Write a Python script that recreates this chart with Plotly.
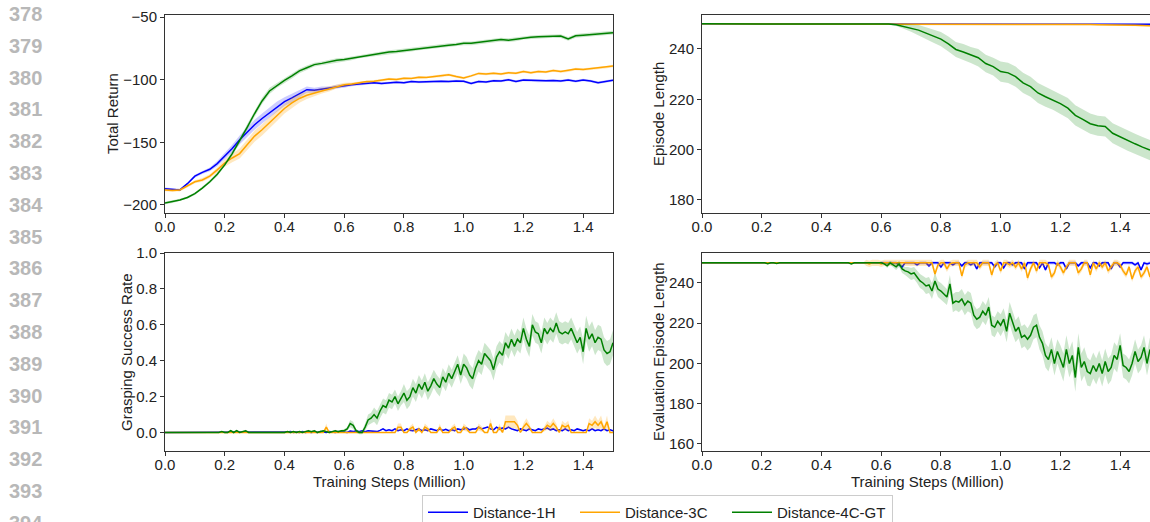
import numpy as np
import plotly.graph_objects as go

# ---------------- data ----------------
series_names = ["Distance-1H", "Distance-3C", "Distance-4C-GT"]
series_colors = ["#0000ff", "#ffa500", "#008000"]
band_colors = ["rgba(0,0,255,0.2)", "rgba(255,165,0,0.25)", "rgba(0,128,0,0.2)"]

steps_coarse = np.round(np.arange(61) * 0.025, 3)   # training steps (million), 0.025 grid
steps_fine = np.round(np.arange(151) * 0.01, 2)     # training steps (million), 0.01 grid

# Total Return
tr_blue = [-187, -187.5, -188, -183, -177, -174, -171.5, -167, -161, -155,
           -148, -142, -136, -131, -126.5, -121.5, -117.5, -114.5, -111.5, -108,
           -108.5, -107.5, -107, -105.5, -105, -104, -103.5, -103, -102.5, -103,
           -102.5, -102, -102.5, -101.5, -101.8, -101.5, -101.5, -101.2, -101.5, -101,
           -101.2, -103, -101.5, -101.8, -100.8, -101, -100, -101.5, -100.2, -100.5,
           -101, -100.8, -100.6, -101, -100.2, -101.2, -100.2, -101, -102.5, -101.5,
           -100.5]
tr_orange = [-188, -188.5, -188, -185, -181.5, -180, -177, -172, -166.5, -162.5,
             -159, -152, -145, -140, -134.5, -128.5, -123, -118.5, -115, -112.5,
             -110.5, -109, -107.5, -105.5, -104, -103.5, -102.5, -101.5, -101.2, -100.5,
             -99.5, -99.8, -98.8, -99, -98, -98.2, -97.4, -97, -96, -97.5,
             -98.7, -97, -95, -95.5, -94.8, -95.5, -94.5, -94.8, -93.5, -94.5,
             -93.5, -93.8, -92.6, -93.5, -92.8, -91.5, -91.8, -91.2, -90.8, -90,
             -89]
tr_green = [-198.5, -197.5, -196, -194, -191, -186.5, -181.5, -175.5, -168, -159,
            -149, -138, -127, -117, -109, -104.5, -100.5, -97, -93, -90.5,
            -88, -87, -85.5, -84.5, -84, -83, -81.5, -80.5, -79.5, -79,
            -78, -77.5, -76.8, -76, -75, -74.5, -73.5, -73, -72.5, -72,
            -71, -71, -70.2, -69.5, -68.8, -68, -68.5, -67.8, -66.5, -66.2,
            -65.8, -65.5, -65, -65.2, -67.5, -65, -64.5, -64, -63.8, -63,
            -62.5]
tr_blue_err = [1, 1, 1, 1, 1.2, 1.2, 1.5, 2, 2.5, 3,
               3.5, 3.5, 4, 4, 4, 4, 3.5, 3.5, 3, 2.5,
               2, 2, 1.5, 1.5, 1.5, 1.2, 1, 1, 1, 1,
               1, 1, 1, 1, 1, 1, 1, 1, 1, 1,
               1, 1, 1, 1, 1, 1, 1, 1, 1, 1,
               1, 1, 1, 1, 1, 1, 1, 1, 1, 1,
               1]
tr_orange_err = [1, 1, 1, 1, 1.2, 1.5, 1.5, 2, 3, 3.5,
                 4, 4, 4.5, 4.5, 4.5, 4.5, 4, 4, 3.5, 3,
                 2.5, 2, 2, 1.5, 1.5, 1.2, 1, 1, 1, 1,
                 1, 1, 1, 1, 1, 1, 1, 1, 1, 1,
                 1, 1, 1, 1, 1, 1, 1, 1, 1, 1,
                 1, 1, 1, 1, 1, 1, 1, 1, 1, 1,
                 1]
tr_green_err = [1, 1, 1, 1, 1, 1.2, 1.2, 1.5, 1.5, 2,
                2, 2.5, 2.5, 2.5, 2.5, 2, 2, 2, 1.8, 1.8,
                1.5, 1.5, 1.5, 1.5, 1.5, 1.5, 1.5, 1.5, 1.5, 1.5,
                1.5, 1.5, 1.5, 1.5, 1.5, 1.5, 1.5, 1.5, 1.5, 1.5,
                1.5, 1.5, 1.5, 1.5, 1.5, 1.5, 1.5, 1.5, 1.5, 1.5,
                1.5, 1.5, 1.5, 1.5, 1.5, 1.5, 1.5, 1.5, 1.5, 1.5,
                1.5]

# Episode Length
el_blue = [250, 250, 250, 250, 250, 250, 250, 250, 250, 250,
           250, 250, 250, 250, 250, 250, 250, 250, 250, 250,
           250, 250, 250, 250, 250, 250, 250, 250, 250, 250,
           250, 250, 250, 250, 250, 250, 250, 250, 250, 250,
           250, 249.9, 250, 249.8, 249.9, 250, 249.8, 249.9, 249.8, 250,
           249.9, 249.8, 249.9, 249.8, 249.9, 249.8, 249.9, 249.8, 249.9, 249.8,
           249.8]
el_orange = [250, 250, 250, 250, 250, 250, 250, 250, 250, 250,
             250, 250, 250, 250, 250, 250, 250, 250, 250, 250,
             250, 250, 250, 250, 250, 250, 250, 250, 250, 250,
             250, 250, 250, 250, 250, 250, 250, 250, 250, 250,
             250, 250, 250, 249.9, 249.9, 249.9, 249.8, 249.8, 249.8, 249.8,
             249.7, 249.7, 249.7, 249.6, 249.6, 249.6, 249.5, 249.5, 249.4, 249.3,
             249.2]
el_green = [250, 250, 250, 250, 250, 250, 250, 250, 250, 250,
            250, 250, 250, 250, 250, 250, 250, 250, 250, 250,
            250, 250, 250, 250, 250, 249.9, 249.6, 249.0, 248.3, 247.5,
            246.3, 245.0, 243.9, 242.0, 239.8, 238.8, 237.6, 236.5, 234.2, 233.0,
            231.0, 230.5, 229.0, 226.5, 225.0, 222.5, 221.0, 219.8, 218.3, 216.5,
            213.6, 212.0, 210.3, 209.5, 209.2, 206.5, 205.0, 203.5, 202.3, 201.0,
            199.8]
el_blue_err = [0.1] * 40 + [0.3] * 21
el_orange_err = [0.1] * 40 + [0.3] * 21
el_green_err = [0, 0, 0, 0, 0, 0, 0, 0, 0, 0,
                0, 0, 0, 0, 0, 0, 0, 0, 0, 0,
                0, 0, 0, 0, 0.1, 0.3, 0.5, 1.0, 1.5, 2.0,
                2.3, 2.5, 2.8, 3.0, 3.0, 3.2, 3.2, 3.5, 3.5, 3.5,
                4.0, 4.0, 4.0, 4.0, 4.0, 4.0, 4.0, 4.0, 4.0, 4.0,
                4.0, 4.0, 4.0, 4.0, 4.0, 4.0, 4.0, 4.0, 4.0, 4.0,
                4.0]

# Grasping Success Rate
gs_blue = [0, 0, 0, 0, 0, 0, 0, 0, 0, 0,
           0, 0, 0, 0, 0, 0, 0, 0, 0, 0,
           0, 0, 0, 0, 0, 0, 0, 0, 0, 0,
           0, 0, 0.002, 0, 0, 0.002, 0, 0, 0, 0.002,
           0, 0.003, 0.005, 0, 0.003, 0, 0.005, 0, 0.003, 0,
           0.003, 0, 0.005, 0.003, 0, 0.005, 0.003, 0, 0.005, 0.003,
           0.005, 0, 0.008, 0.005, 0.01, 0.005, 0.01, 0.005, 0.01, 0.008,
           0.01, 0.005, 0.012, 0.02, 0.01, 0.015, 0.01, 0.02, 0.01, 0.015,
           0.01, 0.02, 0.012, 0.01, 0.015, 0.02, 0.01, 0.015, 0.01, 0.02,
           0.015, 0.01, 0.02, 0.012, 0.018, 0.01, 0.015, 0.01, 0.02, 0.015,
           0.02, 0.025, 0.015, 0.02, 0.02, 0.03, 0.02, 0.025, 0.03, 0.02,
           0.015, 0.03, 0.02, 0.025, 0.02, 0.03, 0.02, 0.015, 0.01, 0.02,
           0.015, 0.01, 0.02, 0.015, 0.01, 0.02, 0.015, 0.02, 0.025, 0.015,
           0.02, 0.01, 0.015, 0.01, 0.02, 0.01, 0.015, 0.01, 0.02, 0.015,
           0.01, 0.015, 0.01, 0.02, 0.01, 0.015, 0.01, 0.02, 0.01, 0.015,
           0.01]
gs_orange = [0, 0, 0, 0, 0, 0, 0, 0, 0, 0,
             0, 0, 0, 0, 0, 0, 0, 0, 0, 0,
             0, 0, 0, 0, 0, 0, 0, 0, 0, 0,
             0, 0, 0, 0, 0, 0, 0, 0, 0, 0,
             0, 0, 0, 0, 0, 0, 0, 0, 0, 0,
             0, 0, 0, 0, 0.03, 0, 0, 0, 0, 0,
             0, 0, 0, 0, 0, 0, 0, 0, 0, 0,
             0, 0, 0, 0, 0, 0, 0, 0, 0.03, 0.03,
             0, 0, 0.02, 0.03, 0, 0.02, 0, 0.03, 0.02, 0,
             0, 0, 0.03, 0, 0, 0, 0.02, 0.03, 0, 0,
             0.03, 0.02, 0, 0, 0, 0.03, 0.02, 0, 0, 0.05,
             0, 0, 0.03, 0, 0.06, 0.06, 0.06, 0.06, 0.04, 0,
             0.03, 0.05, 0.03, 0, 0, 0, 0, 0.02, 0.04, 0.03,
             0.05, 0.03, 0, 0.04, 0.03, 0.04, 0, 0, 0, 0,
             0, 0, 0.05, 0.04, 0.06, 0.04, 0.06, 0.02, 0.06, 0,
             0]
gs_green = [0, 0, 0, 0, 0, 0, 0, 0, 0, 0,
            0, 0, 0, 0, 0, 0, 0, 0, 0, 0.005,
            0, 0, 0.01, 0, 0.01, 0, 0.005, 0.01, 0, 0,
            0, 0, 0, 0, 0, 0, 0, 0, 0, 0,
            0, 0.005, 0, 0.005, 0, 0.005, 0, 0.005, 0.01, 0.005,
            0.01, 0, 0.005, 0.01, 0.005, 0, 0.005, 0.01, 0.005, 0.01,
            0.01, 0.02, 0.05, 0.04, 0.01, 0, 0, 0.03, 0.07, 0.08,
            0.10, 0.08, 0.12, 0.15, 0.14, 0.18, 0.17, 0.20, 0.16, 0.19,
            0.22, 0.18, 0.20, 0.25, 0.22, 0.27, 0.24, 0.28, 0.23, 0.26,
            0.30, 0.27, 0.25, 0.31, 0.28, 0.33, 0.30, 0.34, 0.38, 0.32,
            0.38, 0.36, 0.32, 0.30, 0.36, 0.40, 0.38, 0.44, 0.42, 0.40,
            0.35, 0.42, 0.45, 0.43, 0.50, 0.47, 0.52, 0.48, 0.52, 0.50,
            0.58, 0.52, 0.48, 0.60, 0.56, 0.55, 0.50, 0.58, 0.55, 0.58,
            0.56, 0.61, 0.56, 0.55, 0.56, 0.55, 0.58, 0.54, 0.50, 0.53,
            0.45, 0.58, 0.52, 0.55, 0.50, 0.53, 0.52, 0.46, 0.44, 0.45,
            0.50]
gs_blue_err = [0.0] * 40 + [0.004] * 111
gs_orange_err = [0, 0, 0, 0, 0, 0, 0, 0, 0, 0,
                 0, 0, 0, 0, 0, 0, 0, 0, 0, 0,
                 0, 0, 0, 0, 0, 0, 0, 0, 0, 0,
                 0, 0, 0, 0, 0, 0, 0, 0, 0, 0,
                 0, 0, 0, 0, 0, 0, 0, 0, 0, 0,
                 0, 0, 0, 0, 0.02, 0, 0, 0, 0, 0,
                 0, 0, 0, 0, 0, 0, 0, 0, 0, 0,
                 0, 0, 0, 0, 0, 0, 0, 0, 0.02, 0.02,
                 0, 0, 0.015, 0.02, 0, 0.015, 0, 0.02, 0.015, 0,
                 0, 0, 0.02, 0, 0, 0, 0.015, 0.02, 0, 0,
                 0.02, 0.015, 0, 0, 0, 0.02, 0.015, 0, 0, 0.03,
                 0, 0, 0.02, 0, 0.035, 0.035, 0.035, 0.035, 0.025, 0,
                 0.02, 0.03, 0.02, 0, 0, 0, 0, 0.015, 0.025, 0.02,
                 0.03, 0.02, 0, 0.025, 0.02, 0.025, 0, 0, 0, 0,
                 0, 0, 0.03, 0.025, 0.035, 0.025, 0.035, 0.015, 0.035, 0,
                 0]
gs_green_err = [0, 0, 0, 0, 0, 0, 0, 0, 0, 0,
                0, 0, 0, 0, 0, 0, 0, 0, 0, 0,
                0.005, 0.005, 0.005, 0.005, 0.005, 0.005, 0.005, 0.005, 0.005, 0.005,
                0.005, 0.005, 0.005, 0.005, 0.005, 0.005, 0.005, 0.005, 0.005, 0.005,
                0.005, 0.005, 0.005, 0.005, 0.005, 0.005, 0.005, 0.005, 0.005, 0.005,
                0.005, 0.005, 0.005, 0.005, 0.005, 0.005, 0.005, 0.005, 0.005, 0.005,
                0.01, 0.01, 0.02, 0.02, 0.01, 0.01, 0.01, 0.02, 0.03, 0.03,
                0.04, 0.04, 0.04, 0.04, 0.04, 0.04, 0.04, 0.04, 0.04, 0.04,
                0.05, 0.05, 0.05, 0.05, 0.05, 0.05, 0.05, 0.05, 0.05, 0.05,
                0.05, 0.05, 0.05, 0.05, 0.05, 0.05, 0.05, 0.05, 0.05, 0.05,
                0.06, 0.06, 0.06, 0.06, 0.06, 0.06, 0.06, 0.06, 0.06, 0.06,
                0.06, 0.06, 0.06, 0.06, 0.06, 0.06, 0.06, 0.06, 0.06, 0.06,
                0.06, 0.06, 0.06, 0.06, 0.06, 0.06, 0.06, 0.06, 0.06, 0.06,
                0.06, 0.06, 0.06, 0.06, 0.06, 0.06, 0.06, 0.06, 0.06, 0.06,
                0.07, 0.07, 0.07, 0.07, 0.07, 0.07, 0.07, 0.07, 0.07, 0.07,
                0.07]

# Evaluation Episode Length
ev_blue = [250, 250, 250, 250, 250, 250, 250, 250, 250, 250,
           250, 250, 250, 250, 250, 250, 250, 250, 250, 250,
           250, 250, 250, 250, 250, 250, 250, 250, 250, 250,
           250, 250, 250, 250, 250, 250, 250, 250, 250, 250,
           250, 250, 250, 250, 250, 250, 250, 250, 250, 250,
           250, 250, 250, 250, 250, 250, 250, 250, 250, 250,
           250, 250, 250, 250, 250, 250, 249, 248, 250, 250,
           250, 250, 249, 250, 250, 250, 248.5, 250, 250, 250,
           248, 250, 250, 250, 249, 250, 250, 248.5, 250, 250,
           249, 250, 247, 250, 250, 250, 250, 250, 248, 250,
           250, 247.5, 250, 250, 249, 250, 250, 250, 247, 250,
           250, 250, 250, 247.5, 250, 246.5, 250, 250, 250, 249,
           250, 250, 247, 250, 250, 250, 248.5, 250, 250, 250,
           247.5, 250, 250, 248.5, 250, 250, 250, 247, 250, 250,
           248, 250, 250, 250, 250, 249, 250, 246.5, 250, 249.5,
           250]
ev_orange = [250, 250, 250, 250, 250, 250, 250, 250, 250, 250,
             250, 250, 250, 250, 250, 250, 250, 250, 250, 250,
             250, 250, 250, 250, 250, 250, 250, 250, 250, 250,
             250, 250, 250, 250, 250, 250, 250, 250, 250, 250,
             250, 250, 250, 250, 250, 250, 250, 250, 250, 250,
             250, 250, 250, 250, 250, 250, 249.5, 250, 250, 250,
             249.5, 250, 250, 250, 250, 250, 250, 250, 250, 250,
             250, 250, 250, 250, 250, 250, 250, 250, 244.5, 249,
             250, 250, 247, 249.5, 250, 250, 250, 243.5, 249, 250,
             250, 250, 250, 248, 250, 250, 250, 244, 249, 250,
             246, 250, 250, 249, 250, 248, 250, 247, 250, 242.5,
             247, 250, 246, 250, 250, 250, 249, 243, 245, 250,
             248, 245, 248, 250, 250, 250, 245, 247, 250, 250,
             244, 250, 247, 250, 248, 250, 246, 248, 250, 250,
             249, 246, 244, 248, 242, 246, 248, 243, 245, 248,
             243]
ev_green = [250, 250, 250, 250, 250, 250, 250, 250, 250, 250,
            250, 250, 250, 250, 250, 250, 250, 250, 250, 250,
            250, 250, 249.6, 250, 250, 249.7, 250, 250, 250, 250,
            250, 250, 250, 250, 250, 250, 250, 250, 249.7, 250,
            250, 250, 250, 250, 250, 250, 250, 250, 250, 250,
            249.5, 250, 250, 250, 250, 249.8, 250, 250, 250, 250,
            250, 249.5, 248.5, 250, 249, 248, 249.5, 247, 246, 245.5,
            244.5, 245, 243, 241, 240, 238.5, 239, 236, 241, 237,
            236, 234.5, 233, 239.5, 230, 231, 230.5, 232, 229, 231,
            230, 224, 222, 223, 226, 224, 228, 219, 218, 221,
            219, 222, 216, 225, 220, 216, 218, 213, 214, 212,
            214, 218, 219, 213, 210, 204, 202, 207, 200, 206,
            202, 198, 207, 200, 204, 193, 208, 198, 201, 196,
            195, 199, 196, 200, 195, 201, 196, 198, 204, 202,
            209, 199, 198, 196, 200, 206, 201, 203, 208, 200,
            207]
ev_blue_err = [0.2] * 60 + [0.8] * 91
ev_orange_err = [0.2] * 55 + [1.5] * 96
ev_green_err = [0.3, 0.3, 0.3, 0.3, 0.3, 0.3, 0.3, 0.3, 0.3, 0.3,
                0.3, 0.3, 0.3, 0.3, 0.3, 0.3, 0.3, 0.3, 0.3, 0.3,
                0.3, 0.3, 0.3, 0.3, 0.3, 0.3, 0.3, 0.3, 0.3, 0.3,
                0.3, 0.3, 0.3, 0.3, 0.3, 0.3, 0.3, 0.3, 0.3, 0.3,
                0.3, 0.3, 0.3, 0.3, 0.3, 0.3, 0.3, 0.3, 0.3, 0.3,
                0.3, 0.3, 0.3, 0.3, 0.3, 0.3, 0.3, 0.3, 0.3, 0.3,
                0.5, 0.5, 1, 1, 1, 1.5, 1.5, 2, 2, 2.5,
                3, 3, 3, 3.5, 3.5, 4, 4, 4, 4, 4,
                4, 4, 4, 4.5, 4.5, 4.5, 5, 5, 5, 5,
                5, 5, 5, 5, 5, 5, 5, 5, 5, 5,
                5.5, 5.5, 5.5, 5.5, 5.5, 5.5, 5.5, 5.5, 5.5, 5.5,
                6, 6, 6, 6, 6, 6, 6, 6, 6, 6,
                7, 7, 7, 7, 7, 7, 7, 7, 7, 7,
                6.5, 6.5, 6.5, 6.5, 6.5, 6.5, 6.5, 6.5, 6.5, 6.5,
                6, 6, 6, 6, 6, 6, 6, 6, 6, 6,
                6]

x_tick_vals = [0.0, 0.2, 0.4, 0.6, 0.8, 1.0, 1.2, 1.4]
line_number_labels = [str(n) for n in range(378, 395)]

# ---------------- figure ----------------
W, H = 1150, 522
fig = go.Figure()

panels = [
    ("x", "y", steps_coarse, [tr_blue, tr_orange, tr_green], [tr_blue_err, tr_orange_err, tr_green_err]),
    ("x2", "y2", steps_coarse, [el_blue, el_orange, el_green], [el_blue_err, el_orange_err, el_green_err]),
    ("x3", "y3", steps_fine, [gs_blue, gs_orange, gs_green], [gs_blue_err, gs_orange_err, gs_green_err]),
    ("x4", "y4", steps_fine, [ev_blue, ev_orange, ev_green], [ev_blue_err, ev_orange_err, ev_green_err]),
]
legend_widths = [97, 97, 110]

for pi, (xa, ya, xs, ys, errs) in enumerate(panels):
    for si in range(3):
        m = np.array(ys[si], dtype=float)
        e = np.array(errs[si], dtype=float)
        xx = np.concatenate([xs, xs[::-1]])
        yy = np.concatenate([m + e, (m - e)[::-1]])
        fig.add_trace(go.Scatter(x=xx, y=yy, xaxis=xa, yaxis=ya, fill="toself",
                                 fillcolor=band_colors[si], line=dict(width=0),
                                 mode="lines", showlegend=False, hoverinfo="skip"))
        fig.add_trace(go.Scatter(x=xs, y=m, xaxis=xa, yaxis=ya, mode="lines",
                                 line=dict(color=series_colors[si], width=1.5),
                                 name=series_names[si], showlegend=(pi == 0),
                                 legendwidth=legend_widths[si]))

FONT = "Liberation Sans, Arial, sans-serif"
axis_common = dict(showline=True, linecolor="#333333", linewidth=1, ticks="outside",
                   ticklen=4, tickwidth=1, tickcolor="#333333", showgrid=False,
                   zeroline=False, tickfont=dict(family=FONT, size=15, color="#222222"))

def px_x(px):
    return px / W

def px_y(py):
    return 1 - py / H

xd_left = [px_x(165), px_x(613)]
xd_right = [px_x(702), 1.0]
yd_top = [px_y(213), px_y(15)]
yd_bot = [px_y(451), px_y(253)]

for name, dom, anchor in [("xaxis", xd_left, "y"), ("xaxis2", xd_right, "y2"),
                          ("xaxis3", xd_left, "y3"), ("xaxis4", xd_right, "y4")]:
    fig.layout[name] = dict(axis_common, domain=dom, anchor=anchor, range=[0, 1.5],
                            tickvals=x_tick_vals, tickformat=".1f", mirror=True,
                            ticklabelstandoff=-4)

fig.layout["yaxis"] = dict(axis_common, domain=yd_top, anchor="x", range=[-206.4, -48.4],
                           tickvals=[-200, -150, -100, -50], mirror=True)
fig.layout["yaxis2"] = dict(axis_common, domain=yd_top, anchor="x2", range=[174.8, 253.5],
                            tickvals=[180, 200, 220, 240], mirror=False)
fig.layout["yaxis3"] = dict(axis_common, domain=yd_bot, anchor="x3", range=[-0.103, 1.0],
                            tickvals=[0.0, 0.2, 0.4, 0.6, 0.8, 1.0], tickformat=".1f", mirror=True)
fig.layout["yaxis4"] = dict(axis_common, domain=yd_bot, anchor="x4", range=[156.5, 254.9],
                            tickvals=[160, 180, 200, 220, 240], mirror=False)

annotations = []
# axis titles
for text, cx, cy, ang in [("Total Return", 112, 114, -90),
                          ("Episode Length", 658, 114, -90),
                          ("Grasping Success Rate", 126, 352, -90),
                          ("Evaluation Episode Length", 658, 352, -90),
                          ("Training Steps (Million)", 389, 481, 0),
                          ("Training Steps (Million)", 927, 481, 0)]:
    annotations.append(dict(text=text, x=px_x(cx), y=px_y(cy), xref="paper", yref="paper",
                            xanchor="center", yanchor="middle", textangle=ang, showarrow=False,
                            font=dict(family=FONT, size=15, color="#222222")))
# line numbers on the left margin
for k, lab in enumerate(line_number_labels):
    annotations.append(dict(text="<b>" + lab + "</b>", x=px_x(7), y=px_y(14 + 31.8 * k),
                            xref="paper", yref="paper", xanchor="left", yanchor="middle",
                            showarrow=False, font=dict(family=FONT, size=20, color="#b8b8b8")))

fig.update_layout(
    width=W, height=H, margin=dict(l=0, r=0, t=0, b=0, autoexpand=False),
    paper_bgcolor="white", plot_bgcolor="white",
    annotations=annotations,
    legend=dict(orientation="h", x=px_x(422), y=px_y(495), xanchor="left", yanchor="top",
                bordercolor="#cccccc", borderwidth=1, bgcolor="white",
                font=dict(family=FONT, size=15, color="#222222"),
                entrywidth=97, entrywidthmode="pixels", itemwidth=40),
)

fig.write_html("out.html")
